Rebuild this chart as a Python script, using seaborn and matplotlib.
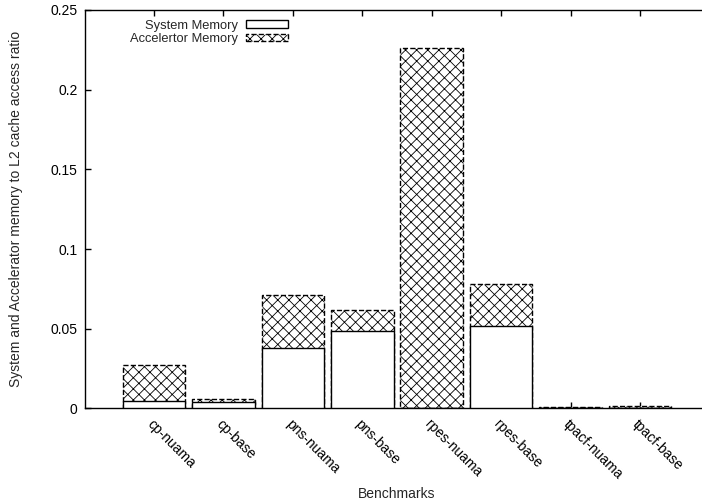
import matplotlib
matplotlib.use("Agg")
import matplotlib.pyplot as plt
import seaborn as sns
import pandas as pd
from matplotlib.patches import Patch

benchmarks = ["cp-nuama", "cp-base", "pns-nuama", "pns-base",
              "rpes-nuama", "rpes-base", "tpacf-nuama", "tpacf-base"]
system_mem = [0.0045, 0.0042, 0.0381, 0.0486, 0.0, 0.0519, 0.0002, 0.0003]
accel_mem = [0.0230, 0.0016, 0.0333, 0.0130, 0.2260, 0.0264, 0.0009, 0.0010]

df = pd.DataFrame({"bench": benchmarks, "system": system_mem, "accel": accel_mem})
df["total"] = df["system"] + df["accel"]

sns.set_style("ticks")
plt.rcParams["font.family"] = ["Liberation Sans", "DejaVu Sans"]
plt.rcParams["hatch.linewidth"] = 0.6

fig = plt.figure(figsize=(7.02, 5.04), dpi=100)
ax = fig.add_axes([0.1204, 0.1895, 0.8903, 0.7907])
ax.set_axisbelow(True)

# Stacked bars: full height hatched (accelerator on top), then system part over it
sns.barplot(data=df, x="bench", y="total", ax=ax, width=0.9, color="white",
            edgecolor="black", linewidth=1.0, hatch="xxx", linestyle="--",
            errorbar=None, zorder=2)
sns.barplot(data=df, x="bench", y="system", ax=ax, width=0.9, color="white",
            edgecolor="black", linewidth=1.0, errorbar=None, zorder=3)

ax.set_xlim(-1, 8)
ax.set_ylim(0, 0.25)
ax.set_yticks([0, 0.05, 0.1, 0.15, 0.2, 0.25])
ax.set_yticklabels(["0", "0.05", "0.1", "0.15", "0.2", "0.25"], fontsize=10)
ax.set_xticks(range(len(benchmarks)))
ax.set_xticklabels(benchmarks, rotation=-45, ha="left", va="top",
                   rotation_mode="anchor", fontsize=10)
ax.tick_params(axis="both", direction="in", length=4, width=1, colors="black",
               top=True, right=True)
ax.tick_params(axis="x", pad=6)
ax.tick_params(axis="y", pad=5)
for s in ax.spines.values():
    s.set_linewidth(1.0)
    s.set_color("black")

ax.set_xlabel("Benchmarks", fontsize=10, labelpad=4)
ax.set_ylabel("System and Accelerator memory to L2 cache access ratio",
              fontsize=10, labelpad=20)

handles = [
    Patch(facecolor="white", edgecolor="black", linewidth=1.0, label="System Memory"),
    Patch(facecolor="white", edgecolor="black", linewidth=1.0, hatch="xxx",
          linestyle="--", label="Accelertor Memory"),
]
leg = ax.legend(handles=handles, loc="upper right", bbox_to_anchor=(0.329, 0.982),
                frameon=False, markerfirst=False, fontsize=9.3,
                handlelength=3.2, handleheight=0.5, handletextpad=0.6,
                labelspacing=0.1, borderaxespad=0.0, borderpad=0.2)
for t in leg.get_texts():
    t.set_ha("right")

fig.savefig("out.png", dpi=100)
